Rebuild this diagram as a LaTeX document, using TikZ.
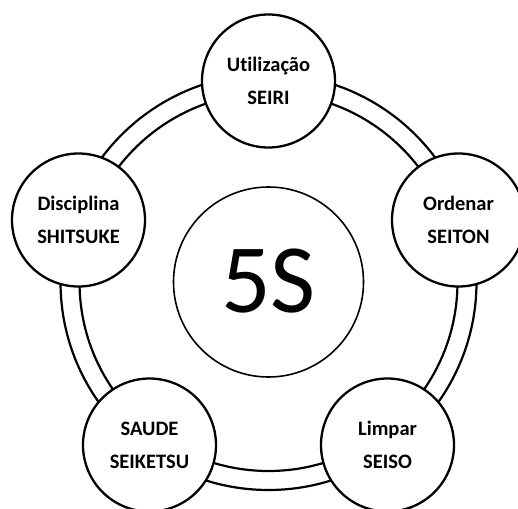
\documentclass[tikz,border=0pt]{standalone}
\usepackage{fontspec}
\setmainfont[Ligatures=NoCommon]{Carlito}
\usetikzlibrary{positioning}

\tikzset{
  etapa/.style={circle, draw, line width=2.3pt, fill=white, minimum size=133pt, inner sep=0pt,
    align=center, font=\bfseries\fontsize{20.5}{33}\selectfont},
  nucleo/.style={circle, draw, line width=1.6pt, fill=white, minimum size=190pt, inner sep=0pt,
    font=\fontsize{98}{98}\selectfont},
  anel/.style={line width=2.2pt},
}

\begin{document}
\begin{tikzpicture}[x=1pt, y=-1pt]
    \useasboundingbox (0,0) rectangle (518,508);
    \coordinate (centro) at (268.5,282);
    % anel duplo por tras das etapas
    \draw[anel] (centro) circle (189pt);
    \draw[anel] (centro) circle (208pt);
    % circulo central
    \node[nucleo] (cinco) at (centro) {\raisebox{3pt}{5S}};
    % as cinco etapas
    \node[etapa] (seiri) at (268.5,81) {Utilização\\SEIRI};
    \node[etapa] (seiton) at (458.5,220) {Ordenar\\SEITON};
    \node[etapa] (seiso) at (387.5,445) {Limpar\\SEISO};
    \node[etapa] (seiketsu) at (149.5,445) {SAUDE\\SEIKETSU};
    \node[etapa] (shitsuke) at (78.5,220) {Disciplina\\SHITSUKE};
\end{tikzpicture}
\end{document}
